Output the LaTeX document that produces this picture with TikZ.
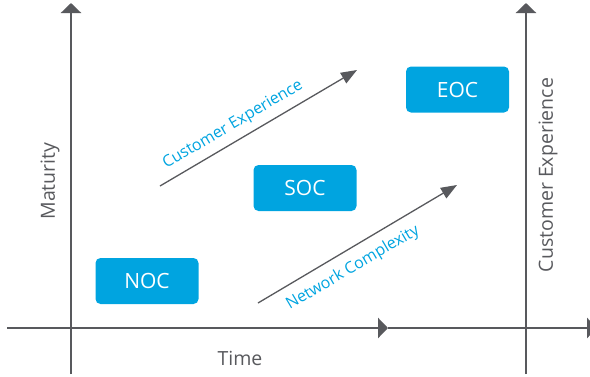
\documentclass[tikz,border=0pt]{standalone}
\usepackage{fontspec}
\setmainfont{Open Sans}
\usepackage{tikz}
\usetikzlibrary{arrows.meta}
\definecolor{clrAx}{RGB}{88,89,93}
\definecolor{clrC}{RGB}{0,164,224}
\tikzset{
  axis/.style={line width=2.8pt,color=clrAx,-{Triangle[length=10pt,width=20pt]}},
  trend/.style={line width=1.3pt,color=clrAx,-{Triangle[length=16pt,width=12pt]}},
  opsbox/.style={rectangle,rounded corners=5pt,fill=clrC,text=white,
    minimum width=103pt,minimum height=46pt,inner sep=0pt,
    font=\fontsize{21}{25}\selectfont},
  axlab/.style={text=clrAx,font=\fontsize{19.5}{23}\selectfont},
  trendlab/.style={text=clrC,rotate=30.5,font=\fontsize{16}{19}\selectfont}
}
\begin{document}
\begin{tikzpicture}[x=1pt,y=-1pt]
  \useasboundingbox (0,0) rectangle (590,376);

  \coordinate (ylo) at (71,374);
  \coordinate (ytop) at (71,3);
  \coordinate (rlo) at (526,374);
  \coordinate (rtop) at (526,3);
  \coordinate (xlo) at (7,328);
  \coordinate (xmid) at (388,328);
  \coordinate (xend) at (597,328);

  \draw[axis] (ylo) -- (ytop);
  \draw[axis] (rlo) -- (rtop);
  \draw[axis] (xlo) -- (xmid);
  \draw[axis] (xmid) -- (xend);

  \node[axlab,rotate=90] (matlab) at (50,181) {Maturity};
  \node[axlab] (timelab) at (240,358) {Time};
  \node[axlab,rotate=90] (cxlab) at (548,175) {Customer Experience};

  \node[opsbox] (noc) at (147,281) {NOC};
  \node[opsbox] (soc) at (305,188) {SOC};
  \node[opsbox] (eoc) at (457.5,89.5) {EOC};

  \coordinate (cxs) at (160,186);
  \coordinate (cxe) at (357,70);
  \coordinate (ncs) at (258,303);
  \coordinate (nce) at (457,185);

  \draw[trend] (cxs) -- (cxe);
  \draw[trend] (ncs) -- (nce);

  \node[trendlab] (cxtrend) at (233,125) {Customer Experience};
  \node[trendlab] (nctrend) at (353,268) {Network Complexity};
\end{tikzpicture}
\end{document}
